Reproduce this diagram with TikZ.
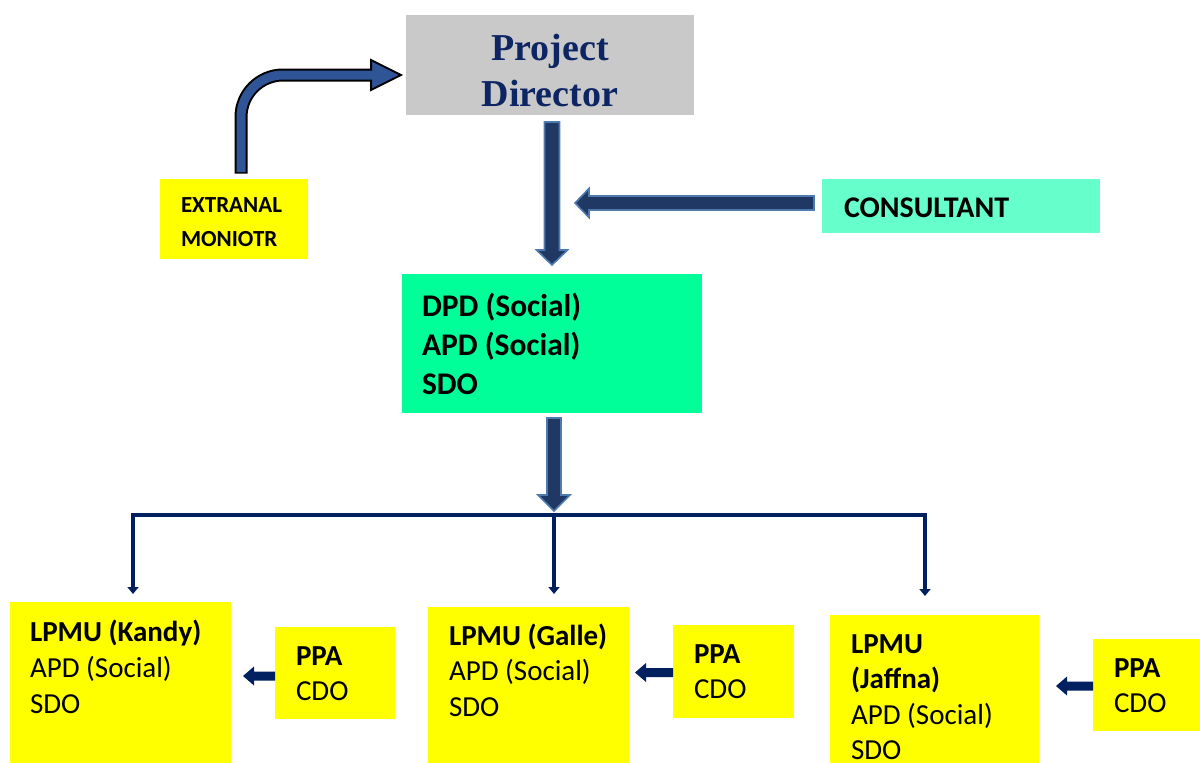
\documentclass[tikz,border=0pt]{standalone}
\usepackage{fontspec}
\setmainfont{Carlito}
\newfontfamily\pdserif{Liberation Serif}
\usetikzlibrary{calc,arrows.meta}
\definecolor{pdgray}{HTML}{C9C9C9}
\definecolor{consgreen}{HTML}{66FFCC}
\definecolor{dpdgreen}{HTML}{00FF99}
\definecolor{boxyellow}{HTML}{FFFF00}
\definecolor{navy}{HTML}{002060}
\definecolor{pdtext}{HTML}{0E2564}
\definecolor{bentblue}{HTML}{2F5597}
\definecolor{arrowfill}{HTML}{203864}
\definecolor{arrowline}{HTML}{4E7AAE}
\newcommand\leftlines[2]{\vtop{\baselineskip=#1pt\relax\halign{##\hfil\cr#2\crcr}}}
\newcommand\centerlines[2]{\vtop{\baselineskip=#1pt\relax\halign{\hfil##\hfil\cr#2\crcr}}}
% #1 style, #2 start, #3 tip, #4 shaft half width, #5 head half width, #6 head length
\newcommand\downblock[6]{\path[#1] ($(#2)+(-#4,0)$) -- ($(#3)+(-#4,-#6)$) -- ($(#3)+(-#5,-#6)$) -- (#3) -- ($(#3)+(#5,-#6)$) -- ($(#3)+(#4,-#6)$) -- ($(#2)+(#4,0)$) -- cycle;}
\newcommand\leftblock[6]{\path[#1] ($(#2)+(0,-#4)$) -- ($(#3)+(#6,-#4)$) -- ($(#3)+(#6,-#5)$) -- (#3) -- ($(#3)+(#6,#5)$) -- ($(#3)+(#6,#4)$) -- ($(#2)+(0,#4)$) -- cycle;}
\tikzset{
  box/.style={inner sep=0pt, outer sep=0pt, anchor=north west, draw=none},
  txt/.style={inner sep=0pt, outer sep=0pt, anchor=base west, text=black},
  bigfont/.style={font=\fontsize{29}{36}\selectfont},
  blockarrow/.style={fill=arrowfill, draw=arrowline, line width=1.6pt, line join=miter},
  ppaarrow/.style={fill=navy, draw=none},
  link/.style={draw=navy, line width=4pt, line join=miter, -{Triangle[width=11pt,length=7pt]}}
}
\begin{document}
\begin{tikzpicture}[x=1pt, y=-1pt]
\useasboundingbox (0,0) rectangle (1200,763);
% boxes
\node[box, fill=pdgray, minimum width=288pt, minimum height=100pt] (pd) at (406,15) {};
\node[box, fill=boxyellow, minimum width=148pt, minimum height=80pt] (ext) at (160,179) {};
\node[box, fill=consgreen, minimum width=278pt, minimum height=54pt] (cons) at (822,179) {};
\node[box, fill=dpdgreen, minimum width=300pt, minimum height=139pt] (dpd) at (402,274) {};
\node[box, fill=boxyellow, minimum width=221pt, minimum height=170pt] (kandy) at (10,602) {};
\node[box, fill=boxyellow, minimum width=120pt, minimum height=92pt] (kppa) at (275,627) {};
\node[box, fill=boxyellow, minimum width=201pt, minimum height=165pt] (galle) at (428,607) {};
\node[box, fill=boxyellow, minimum width=121pt, minimum height=93pt] (gppa) at (673,625) {};
\node[box, fill=boxyellow, minimum width=209pt, minimum height=160pt] (jaffna) at (830,615) {};
\node[box, fill=boxyellow, minimum width=115pt, minimum height=92pt] (jppa) at (1093,639) {};
% texts
\node[txt, anchor=base, text=pdtext, font=\pdserif\bfseries\fontsize{38}{46}\selectfont] (pdt) at ($(pd.north)+(0,45)$) {\centerlines{46}{Project\cr Director}};
\node[txt, font=\bfseries\fontsize{23}{34}\selectfont] (extt) at ($(ext.north west)+(21,33)$) {\leftlines{34}{EXTRANAL\cr MONIOTR}};
\node[txt, font=\bfseries\fontsize{30}{36}\selectfont] (const) at ($(cons.north west)+(22,38)$) {CONSULTANT};
\node[txt, font=\bfseries\fontsize{31.5}{39}\selectfont] (dpdt) at ($(dpd.north west)+(20,42)$) {\leftlines{39}{DPD (Social)\cr APD (Social)\cr SDO}};
\node[txt, bigfont] (kandyt) at ($(kandy.north west)+(20,39)$) {\leftlines{36}{\bfseries LPMU (Kandy)\cr APD (Social)\cr SDO}};
\node[txt, bigfont] (kppat) at ($(kppa.north west)+(21,38)$) {\leftlines{35}{\bfseries PPA\cr CDO}};
\node[txt, bigfont] (gallet) at ($(galle.north west)+(21,38)$) {\leftlines{35.5}{\bfseries LPMU (Galle)\cr APD (Social)\cr SDO}};
\node[txt, bigfont] (gppat) at ($(gppa.north west)+(21,38)$) {\leftlines{35.5}{\bfseries PPA\cr CDO}};
\node[txt, bigfont] (jaffnat) at ($(jaffna.north west)+(21,38)$) {\leftlines{35.5}{\bfseries LPMU\cr \bfseries (Jaffna)\cr APD (Social)\cr SDO}};
\node[txt, bigfont] (jppat) at ($(jppa.north west)+(21,38)$) {\leftlines{35}{\bfseries PPA\cr CDO}};
% bent arrow external monitor -> project director
\coordinate (bs) at ($(ext.north west)+(81,-7)$);
\coordinate (bh) at ($(pd.west)+(-35,10)$);
\coordinate (bt) at ($(pd.west)+(-5,10)$);
\draw[line width=13pt, black, rounded corners=42pt] ($(bs)+(0,1.5)$) |- (bh);
\path[fill=bentblue, draw=black, line width=2pt, line join=miter] ($(bh)+(0,-15)$) -- (bt) -- ($(bh)+(0,15)$) -- cycle;
\draw[line width=9pt, bentblue, rounded corners=42pt] (bs) |- ($(bh)+(2.5,0)$);
% project director -> dpd
\coordinate (a1s) at ($(dpd.north |- pd.south)+(0,7)$);
\coordinate (a1t) at ($(dpd.north)+(0,-9)$);
\downblock{blockarrow}{a1s}{a1t}{7.5}{15.5}{15}
% consultant -> vertical arrow
\coordinate (a2s) at ($(cons.west)+(-8,-3)$);
\coordinate (a2t) at ($(a2s -| dpd.north)+(23,0)$);
\leftblock{blockarrow}{a2s}{a2t}{7}{14.5}{14}
% dpd -> bar
\coordinate (a3s) at ($(dpd.south)+(2,5)$);
\coordinate (a3t) at ($(dpd.south)+(2,98)$);
\downblock{blockarrow}{a3s}{a3t}{7}{16}{16}
% bar and drops
\coordinate (j) at ($(dpd.south)+(2,102)$);
\coordinate (kd) at ($(kandy.north west)+(123,-8)$);
\coordinate (gd) at ($(galle.north west)+(126,-13)$);
\coordinate (jd) at ($(jaffna.north west)+(95,-19)$);
\draw[link] (j) -| (kd);
\draw[link] (j) -| (jd);
\draw[link] (j) -- (gd);
% PPA arrows
\coordinate (p1s) at ($(kppa.west)+(0,3)$);
\coordinate (p1t) at ($(p1s)+(-32,0)$);
\leftblock{ppaarrow}{p1s}{p1t}{4.5}{9.5}{11}
\coordinate (p2s) at ($(gppa.west)+(0,1)$);
\coordinate (p2t) at ($(p2s)+(-38,0)$);
\leftblock{ppaarrow}{p2s}{p2t}{4.5}{9.5}{11}
\coordinate (p3s) at ($(jppa.west)+(0,1)$);
\coordinate (p3t) at ($(p3s)+(-37,0)$);
\leftblock{ppaarrow}{p3s}{p3t}{4.5}{9.5}{11}
\end{tikzpicture}
\end{document}
